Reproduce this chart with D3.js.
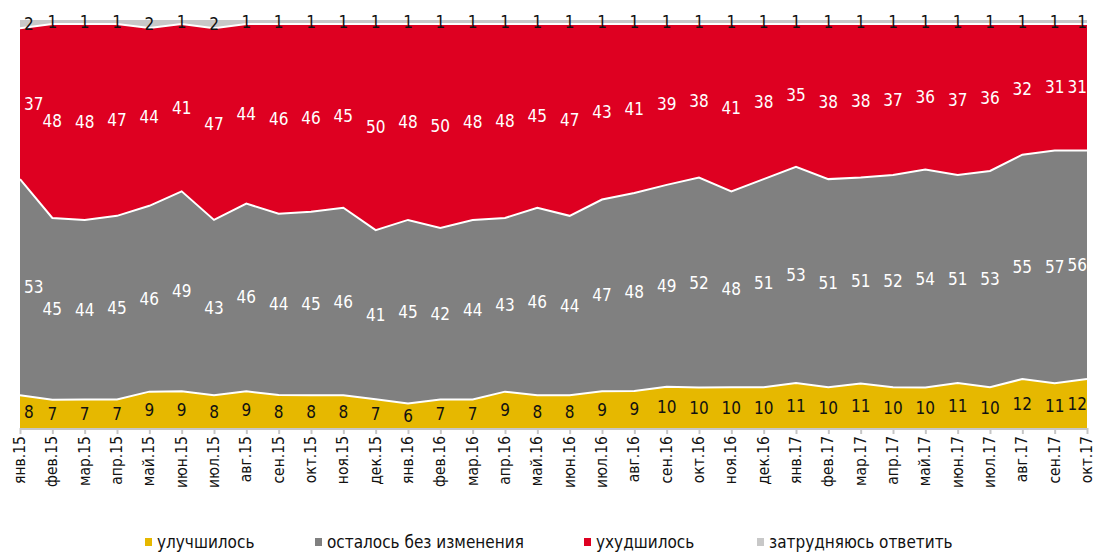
<!DOCTYPE html>
<html>
<head>
<meta charset="utf-8">
<script src="https://cdn.jsdelivr.net/npm/d3@7"></script>
<style>
  body { margin: 0; background: #fff; }
  text { font-family: "Liberation Sans Narrow", "DejaVu Sans Condensed", sans-serif; }
</style>
</head>
<body>
<div id="chart"></div>
<script>
// data
var months = ['янв.15','фев.15','мар.15','апр.15','май.15','июн.15','июл.15','авг.15','сен.15','окт.15','ноя.15','дек.15',
              'янв.16','фев.16','мар.16','апр.16','май.16','июн.16','июл.16','авг.16','сен.16','окт.16','ноя.16','дек.16',
              'янв.17','фев.17','мар.17','апр.17','май.17','июн.17','июл.17','авг.17','сен.17','окт.17'];
var improved = [8,7,7,7,9,9,8,9,8,8,8,7,6,7,7,9,8,8,9,9,10,10,10,10,11,10,11,10,10,11,10,12,11,12];
var same     = [53,45,44,45,46,49,43,46,44,45,46,41,45,42,44,43,46,44,47,48,49,52,48,51,53,51,51,52,54,51,53,55,57,56];
var worse    = [37,48,48,47,44,41,47,44,46,46,45,50,48,50,48,48,45,47,43,41,39,38,41,38,35,38,38,37,36,37,36,32,31,31];
var hard     = [2,1,1,1,2,1,2,1,1,1,1,1,1,1,1,1,1,1,1,1,1,1,1,1,1,1,1,1,1,1,1,1,1,1];

var keys   = ['improved','same','worse','hard'];
var names  = ['улучшилось','осталось без изменения','ухудшилось','затрудняюсь ответить'];
var colors = ['#e6b800','#808080','#de0021','#c8c8c8'];
var labelColors = ['#111','#fff','#fff','#111'];

var rows = months.map(function(m, i) {
  return { month: m, improved: improved[i], same: same[i], worse: worse[i], hard: hard[i] };
});

var width = 1094, height = 553;
var x0 = 20, x1 = 1087, yTop = 20, yBot = 428;

var svg = d3.select('#chart').append('svg')
  .attr('width', width)
  .attr('height', height);

var xScale = d3.scalePoint().domain(months).range([x0, x1]);
var yScale = d3.scaleLinear().domain([0, 1]).range([yBot, yTop]);

var series = d3.stack().keys(keys).offset(d3.stackOffsetExpand)(rows);

var area = d3.area()
  .x(function(d) { return xScale(d.data.month); })
  .y0(function(d) { return yScale(d[0]); })
  .y1(function(d) { return yScale(d[1]); });

var topLine = d3.line()
  .x(function(d) { return xScale(d.data.month); })
  .y(function(d) { return yScale(d[1]); });

svg.selectAll('path.area')
  .data(series)
  .enter().append('path')
  .attr('class', 'area')
  .attr('fill', function(d, i) { return colors[i]; })
  .attr('d', area);

// white borders between layers
svg.selectAll('path.sep')
  .data(series.slice(0, 3))
  .enter().append('path')
  .attr('class', 'sep')
  .attr('fill', 'none')
  .attr('stroke', '#fff')
  .attr('stroke-width', 2)
  .attr('d', topLine);

// x axis
var xAxis = d3.axisBottom(xScale).tickSize(6).tickFormat('');
var xg = svg.append('g')
  .attr('transform', 'translate(0,' + yBot + ')')
  .call(xAxis);
xg.select('.domain').attr('stroke', '#c6c6c6').attr('stroke-width', 2)
  .attr('d', 'M' + x0 + ',1H' + x1);
xg.selectAll('.tick line').attr('stroke', '#c6c6c6').attr('stroke-width', 2);

svg.append('g').selectAll('text')
  .data(months)
  .enter().append('text')
  .attr('transform', function(d, i) {
    var x = xScale(d) + 5;
    if (i === months.length - 1) x = Math.min(x, width - 2);
    return 'translate(' + x + ',' + (yBot + 8) + ') rotate(-90)';
  })
  .attr('text-anchor', 'end')
  .attr('font-size', '15.5px')
  .attr('fill', '#111')
  .text(function(d) { return d; });

// value labels
series.forEach(function(s, k) {
  var raw = [improved, same, worse, hard][k];
  svg.append('g').selectAll('text')
    .data(s)
    .enter().append('text')
    .attr('x', function(d, i) {
      var x = xScale(d.data.month);
      if (i === 0) return x + 4;
      return x;
    })
    .attr('y', function(d) { return yScale((d[0] + d[1]) / 2) + 6; })
    .attr('text-anchor', function(d, i) {
      if (i === 0) return 'start';
      if (i === months.length - 1) return 'end';
      return 'middle';
    })
    .attr('font-size', '17px')
    .attr('fill', labelColors[k])
    .text(function(d, i) { return raw[i]; });
});

// legend
var legendX = [145, 315, 584, 757];
var lg = svg.append('g').selectAll('g')
  .data(names)
  .enter().append('g')
  .attr('transform', function(d, i) { return 'translate(' + legendX[i] + ',536)'; });
lg.append('rect')
  .attr('width', 7).attr('height', 8).attr('y', 2)
  .attr('fill', function(d, i) { return colors[i]; });
lg.append('text')
  .attr('x', 12)
  .attr('y', 12)
  .attr('font-size', '17px')
  .attr('fill', '#111')
  .text(function(d) { return d; });
</script>
</body>
</html>
